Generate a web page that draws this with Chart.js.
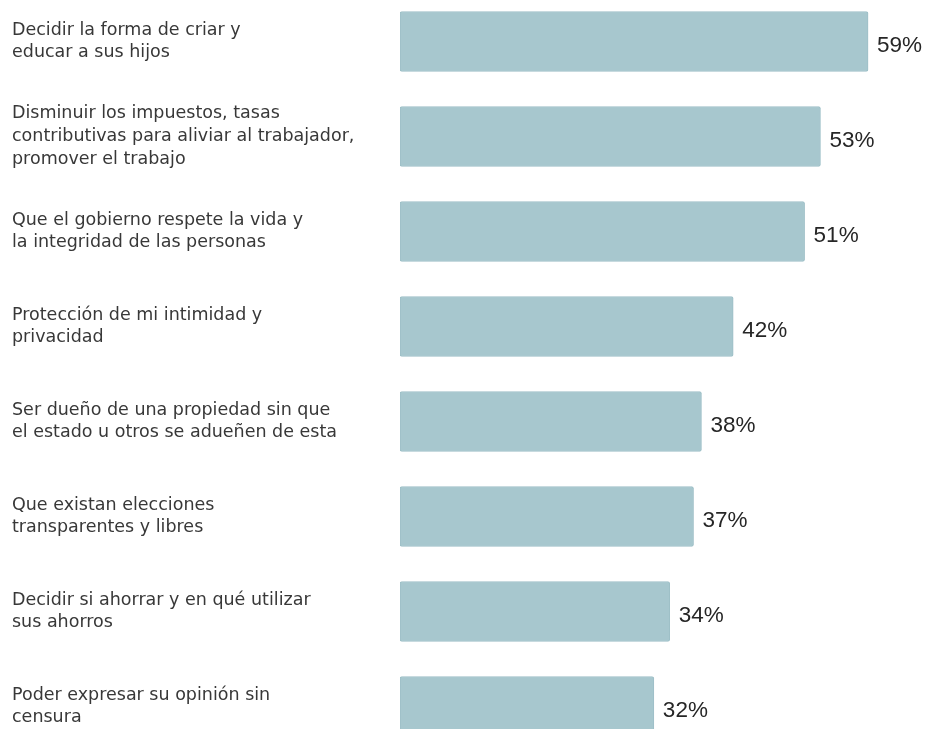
<!DOCTYPE html>
<html>
<head>
<meta charset="utf-8">
<script src="https://cdn.jsdelivr.net/npm/chart.js@4.4.1/dist/chart.umd.min.js"></script>
<style>
  html, body { margin: 0; padding: 0; background: #fff; overflow: hidden; }
  #wrap { position: absolute; left: 0; top: -6px; width: 938px; height: 760px; }
</style>
</head>
<body>
<div id="wrap"><canvas id="bars"></canvas></div>
<script>
const categories = [
  ['Decidir la forma de criar y', 'educar a sus hijos'],
  ['Disminuir los impuestos, tasas', 'contributivas para aliviar al trabajador,', 'promover el trabajo'],
  ['Que el gobierno respete la vida y', 'la integridad de las personas'],
  ['Protección de mi intimidad y', 'privacidad'],
  ['Ser dueño de una propiedad sin que', 'el estado u otros se adueñen de esta'],
  ['Que existan elecciones', 'transparentes y libres'],
  ['Decidir si ahorrar y en qué utilizar', 'sus ahorros'],
  ['Poder expresar su opinión sin', 'censura']
];
const values = [59, 53, 51, 42, 38, 37, 34, 32];

// draws the "59%" style labels just past the bar end
const valueLabels = {
  id: 'valueLabels',
  afterDatasetsDraw(chart) {
    const ctx = chart.ctx;
    const meta = chart.getDatasetMeta(0);
    ctx.save();
    ctx.font = '22.5px "Liberation Sans"';
    ctx.fillStyle = '#262626';
    ctx.textAlign = 'left';
    ctx.textBaseline = 'middle';
    meta.data.forEach((bar, i) => {
      ctx.fillText(values[i] + '%', bar.x + 9, bar.y + 4);
    });
    ctx.restore();
  }
};

const ctx = document.getElementById('bars').getContext('2d');
new Chart(ctx, {
  type: 'bar',
  data: {
    labels: categories,
    datasets: [{
      data: values,
      backgroundColor: '#a7c7ce',
      borderColor: '#9dbfc7',
      borderWidth: 1,
      borderRadius: 2,
      borderSkipped: false,
      barThickness: 60
    }]
  },
  options: {
    indexAxis: 'y',
    responsive: true,
    maintainAspectRatio: false,
    animation: false,
    layout: { padding: { left: 12, right: 62, top: 0, bottom: 0 } },
    plugins: {
      legend: { display: false },
      tooltip: { enabled: false }
    },
    scales: {
      x: {
        display: false,
        min: 0,
        max: 60
      },
      y: {
        grid: { display: false },
        border: { display: false },
        afterFit(scale) {
          scale.width = 388;
          scale.paddingTop = 0;
          scale.paddingBottom = 0;
        },
        ticks: {
          crossAlign: 'far',
          color: '#383838',
          font: { family: 'DejaVu Sans', size: 17.5, lineHeight: 1.29 },
          padding: 0
        }
      }
    }
  },
  plugins: [valueLabels]
});
</script>
</body>
</html>
